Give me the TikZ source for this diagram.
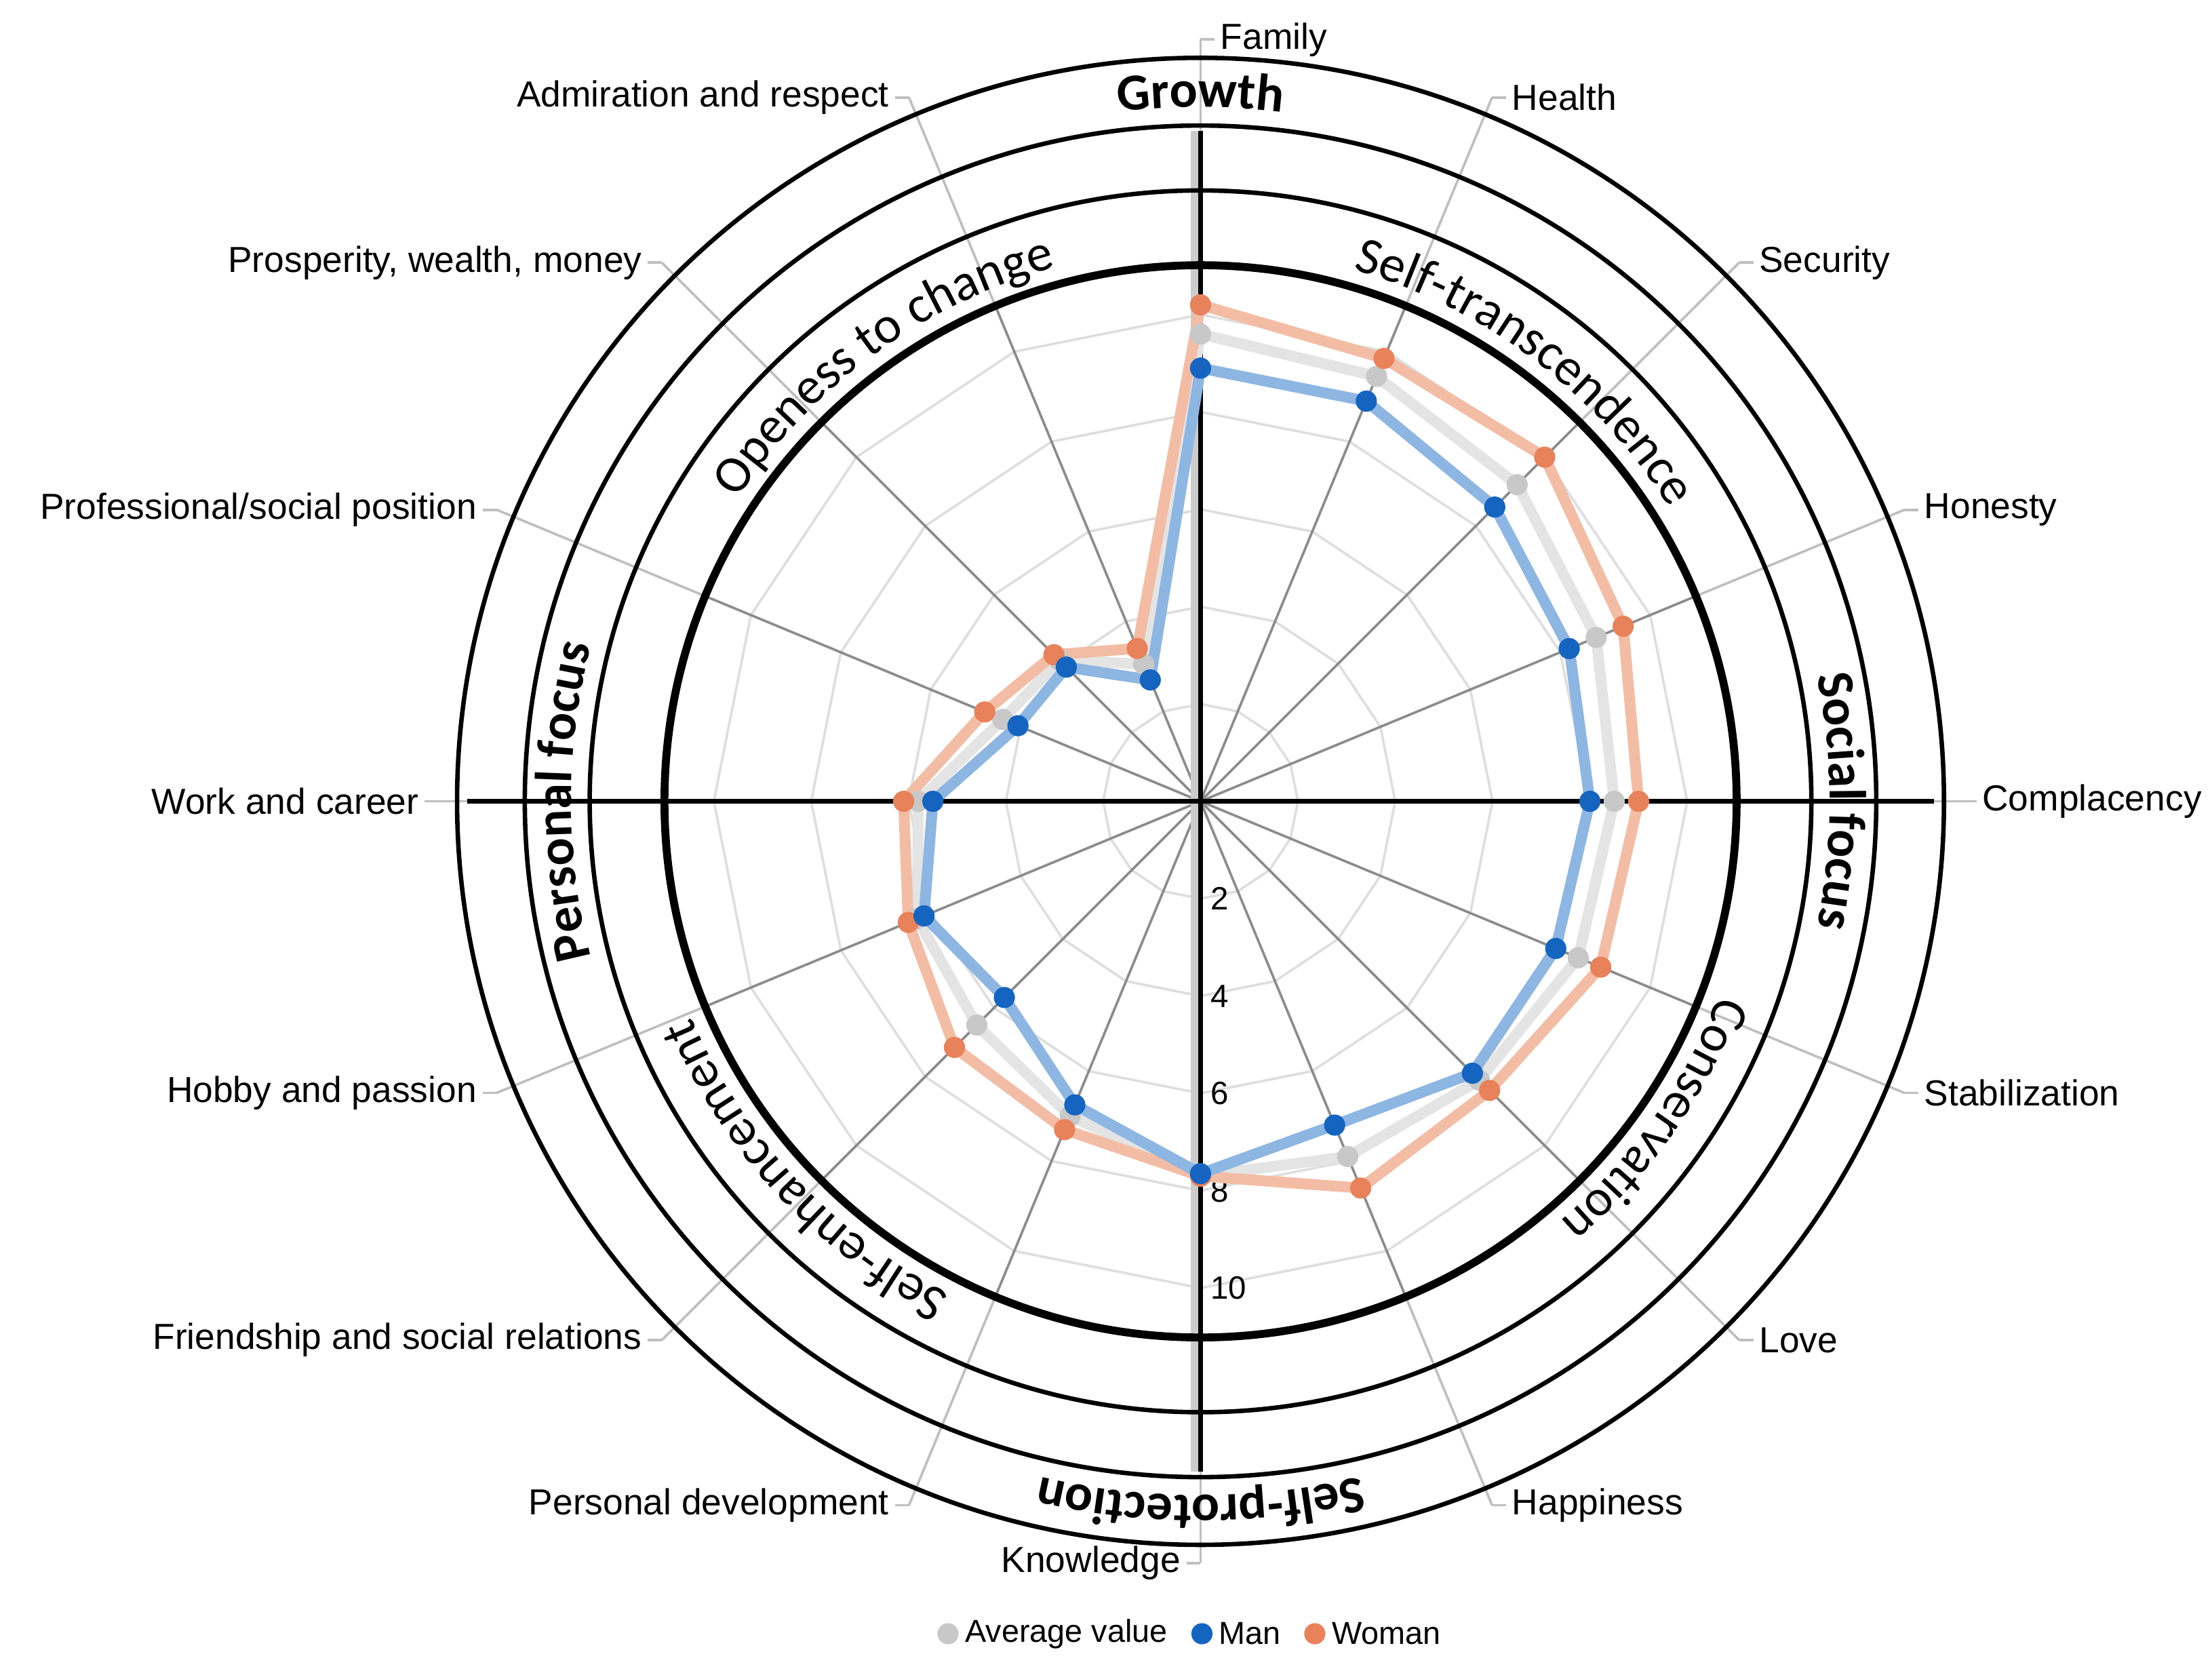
\documentclass[tikz,border=0pt]{standalone}
\usepackage{fontspec}
\setmainfont{Liberation Sans}
\newfontfamily\carl{Carlito}
\usetikzlibrary{decorations.text,calc}
\definecolor{manD}{HTML}{1565C0}\definecolor{manL}{HTML}{8DB6E2}
\definecolor{womD}{HTML}{E8825A}\definecolor{womL}{HTML}{F3BCA4}
\definecolor{avgD}{HTML}{C8C8C8}\definecolor{avgL}{HTML}{E4E4E4}
\begin{document}
\begin{tikzpicture}[
  lab/.style={font=\fontsize{7.3}{9}\selectfont, inner sep=1pt},
  ring/.style={draw=black, line width=0.9pt},
  grid/.style={draw=black!13, line width=0.5pt},
  spokeIn/.style={draw=black!45, line width=0.5pt},
  spokeOut/.style={draw=black!25, line width=0.5pt},
  sline/.style={line width=2.2pt, line join=round},
  dot/.style={circle, inner sep=0pt, minimum size=0.15cm},
  band/.style={decorate, decoration={text along path, text align=center, text={#1}}},
  tick/.style={font=\fontsize{6.5}{8}\selectfont, inner sep=1pt, anchor=west},
  leg/.style={font=\fontsize{6.4}{8}\selectfont, inner sep=1pt, anchor=west}
]
\useasboundingbox (0,0) rectangle (15.68,11.84);
\begin{scope}[shift={(8.51,6.16)}]
\coordinate (O) at (0,0);
\foreach \g in {2,4,6,8,10}{
  \draw[grid] (90:{\g*0.345}) \foreach \k in {1,...,15}{ -- ({90-22.5*\k}:{\g*0.345})} -- cycle;
}
\foreach \k in {0,...,15}{
  \coordinate (si\k) at ({90-22.5*\k}:3.8);
  \coordinate (so\k) at ({90-22.5*\k}:5.4);
  \draw[spokeIn] (O) -- (si\k);
  \draw[spokeOut] (si\k) -- (so\k);
}
\draw[draw=black!20, line width=1.6pt] (-0.04,-4.75) -- (-0.04,4.75);
\draw[ring, line width=1.6pt] (O) circle (3.8);
\draw[ring] (O) circle (4.33);
\draw[ring] (O) circle (4.79);
\draw[ring] (O) circle (5.27);
\coordinate (hl) at (-5.2,0); \coordinate (hr) at (5.2,0);
\coordinate (vt) at (0,4.75); \coordinate (vb) at (0,-4.75);
\draw[black, line width=1pt] (hl) -- (hr);
\draw[black, line width=1pt] (vb) -- (vt);
\foreach \g in {2,4,6,8,10}{ \node[tick] (t\g) at (0.03,{-\g*0.345}) {\g}; }
\def\W{10.2,9.85,10.0,9.4,9.0,8.9,8.4,8.6,7.7,7.3,7.15,6.5,6.1,4.8,4.26,3.4}
\def\A{9.6,9.45,9.2,8.8,8.5,8.4,8.1,7.9,7.7,7.0,6.5,6.3,5.8,4.4,4.1,3.05}
\def\M{8.9,8.9,8.55,8.2,8.0,7.9,7.9,7.2,7.65,6.75,5.7,6.15,5.5,4.06,3.9,2.7}
\foreach \v [count=\i from 0] in \W { \coordinate (w\i) at ({90-22.5*\i}:{\v*0.345}); }
\foreach \v [count=\i from 0] in \A { \coordinate (a\i) at ({90-22.5*\i}:{\v*0.345}); }
\foreach \v [count=\i from 0] in \M { \coordinate (m\i) at ({90-22.5*\i}:{\v*0.345}); }
\draw[sline, avgL] (a0) \foreach \i in {1,...,15}{ -- (a\i)} -- cycle;
\draw[sline, womL] (w0) \foreach \i in {1,...,15}{ -- (w\i)} -- cycle;
\draw[sline, manL] (m0) \foreach \i in {1,...,15}{ -- (m\i)} -- cycle;
\foreach \i in {0,...,15}{
  \node[dot, fill=avgD] (ad\i) at (a\i) {};
  \node[dot, fill=womD] (wd\i) at (w\i) {};
  \node[dot, fill=manD] (md\i) at (m\i) {};
}
\foreach \t [count=\i from 0] in {Family,Health,Security,Honesty,Complacency,Stabilization,Love,Happiness}{
  \coordinate (e\i) at ($(so\i)+(0.1,0)$);
  \draw[spokeOut] (so\i) -- (e\i);
  \node[lab, anchor=west] (L\i) at (e\i) {\t};
}
\foreach \t [count=\j from 8] in {Knowledge,Personal development,Friendship and social relations,Hobby and passion,Work and career,Professional/social position,{Prosperity, wealth, money},Admiration and respect}{
  \coordinate (e\j) at ($(so\j)+(-0.1,0)$);
  \draw[spokeOut] (so\j) -- (e\j);
  \node[lab, anchor=east] (L\j) at (e\j) {\t};
}
\def\rfx{|\carl\fontsize{10.5}{13}\selectfont|}
\def\bfx{|\carl\bfseries\fontsize{10.5}{13}\selectfont|}
\path[band={\rfx Openess to change}] (166:3.92) arc[start angle=166, end angle=86, radius=3.92];
\path[band={\rfx Self-transcendence}] (95:3.92) arc[start angle=95, end angle=11, radius=3.92];
\path[band={\rfx Conservation}] (5:3.92) arc[start angle=5, end angle=-75, radius=3.92];
\path[band={\rfx Self-enhancement}] (263:3.92) arc[start angle=263, end angle=183, radius=3.92];
\path[band={\bfx Growth}] (130:4.92) arc[start angle=130, end angle=50, radius=4.92];
\path[band={\bfx Self-protection}] (-50:4.92) arc[start angle=-50, end angle=-130, radius=4.92];
\path[band={\bfx Personal focus}] (220:4.46) arc[start angle=220, end angle=140, radius=4.46];
\path[band={\bfx Social focus}] (40:4.46) arc[start angle=40, end angle=-40, radius=4.46];
\end{scope}
\node[dot, fill=avgD] (lg1) at (6.72,0.26) {};
\node[leg] (lt1) at (6.8,0.26) {Average value};
\node[dot, fill=manD] (lg2) at (8.52,0.26) {};
\node[leg] (lt2) at (8.6,0.26) {Man};
\node[dot, fill=womD] (lg3) at (9.32,0.26) {};
\node[leg] (lt3) at (9.4,0.26) {Woman};
\end{tikzpicture}
\end{document}
